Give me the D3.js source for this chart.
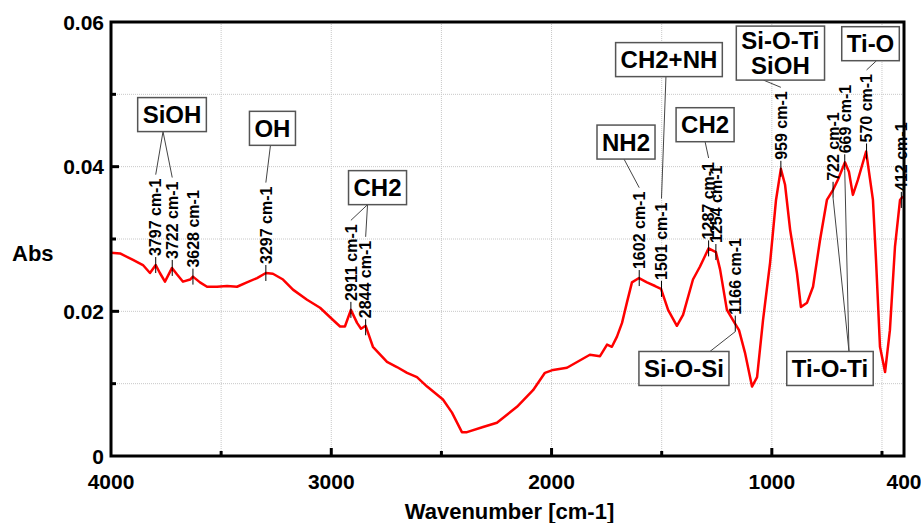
<!DOCTYPE html>
<meta charset="utf-8">
<style>
body{margin:0;background:#fff;}
svg{position:absolute;left:0;top:0;}
text{font-family:'Liberation Sans',Arial,sans-serif;font-weight:bold;fill:#000;}
.grid line{stroke:#c8c8c8;stroke-width:1;stroke-dasharray:1,1;}
.frame{fill:none;stroke:#000;stroke-width:3;}
.spec{fill:none;stroke:#ff0000;stroke-width:2.5;stroke-linejoin:round;}
.peak{font-size:16px;}
.tickmark{stroke:#000;stroke-width:1;}
.lead{stroke:#444;stroke-width:1;}
.box rect{fill:#fff;stroke:#555;stroke-width:1.5;}
.box text{font-size:24px;text-anchor:middle;}
</style>
<script src="https://d3js.org/d3.v7.min.js"></script>
<svg width="921" height="523"></svg>
<script>
// spectrum
var wavenumber = [4000,3959,3900,3855,3823,3797,3778,3755,3723,3700,3673,3641,3628,3596,3564,3519,3473,3428,3383,3337,3297,3265,3219,3174,3110,3051,2992,2960,2938,2911,2883,2865,2844,2811,2747,2702,2656,2611,2565,2493,2452,2407,2384,2311,2248,2157,2084,2030,1993,1930,1884,1826,1780,1748,1726,1703,1680,1658,1635,1603,1567,1530,1503,1471,1431,1403,1358,1326,1287,1254,1235,1204,1167,1149,1122,1090,1067,1040,1008,981,959,940,917,886,868,840,813,781,750,722,700,668,650,632,609,572,541,527,509,486,464,441,418,405];
var absorb = [0.0281,0.0280,0.0271,0.0264,0.0253,0.0264,0.0253,0.0241,0.0260,0.0251,0.0241,0.0244,0.0248,0.0240,0.0234,0.0234,0.0235,0.0234,0.0240,0.0246,0.0253,0.0252,0.0244,0.0230,0.0216,0.0205,0.0188,0.0179,0.0179,0.0202,0.0184,0.0176,0.0180,0.0151,0.0130,0.0123,0.0115,0.0109,0.0096,0.0078,0.0060,0.0033,0.0033,0.0040,0.0046,0.0068,0.0091,0.0115,0.0119,0.0122,0.0130,0.0140,0.0138,0.0154,0.0151,0.0165,0.0184,0.0212,0.0240,0.0246,0.0240,0.0235,0.0231,0.0202,0.0180,0.0195,0.0244,0.0262,0.0287,0.0282,0.0258,0.0202,0.0183,0.0174,0.0143,0.0096,0.0109,0.0188,0.0267,0.0354,0.0397,0.0375,0.0313,0.0253,0.0206,0.0212,0.0234,0.0299,0.0354,0.0368,0.0382,0.0406,0.0393,0.0361,0.0382,0.0421,0.0354,0.0271,0.0151,0.0116,0.0174,0.0289,0.0354,0.0359];

// labelled peaks
var peakWn  = [3797,3722,3628,3297,2911,2844,1602,1501,1287,1254,1166,959,722,669,570,412];
var peakAbs = [0.0264,0.0260,0.0248,0.0253,0.0202,0.0178,0.0246,0.0231,0.0287,0.0282,0.0183,0.0397,0.0368,0.0406,0.0421,0.0354];

// group boxes: text lines, centre (wavenumber, abs), leader side/offset, peaks it points to
var boxes = [
  {lines:["SiOH"], wn:3723, abs:0.0472, side:"bottom", dx:-9, to:[3797,3722]},
  {lines:["OH"], wn:3267, abs:0.0453, side:"bottom", dx:-2, to:[3297]},
  {lines:["CH2"], wn:2790, abs:0.0371, side:"bottom", dx:-10, to:[2911,2844]},
  {lines:["NH2"], wn:1662, abs:0.0434, side:"bottom", dx:-2, to:[1602]},
  {lines:["CH2+NH"], wn:1467, abs:0.0548, side:"bottom", dx:-3, to:[1501]},
  {lines:["CH2"], wn:1303, abs:0.0458, side:"bottom", dx:0, to:[1287]},
  {lines:["Si-O-Ti","SiOH"], wn:961, abs:0.0557, side:"bottom", dx:-17, to:[959]},
  {lines:["Ti-O"], wn:552, abs:0.0570, side:"bottom", dx:6, to:[570]},
  {lines:["Si-O-Si"], wn:1399, abs:0.0121, side:"top", dx:26, to:[1166]},
  {lines:["Ti-O-Ti"], wn:736, abs:0.0121, side:"top", dx:19, to:[722,669]}
];

var xTickLabels = [4000,3000,2000,1000,400];
var yTickLabels = [0,0.02,0.04,0.06];

var svg = d3.select("svg"),
    L = 111, R = 904, T = 22, B = 456;

var x = d3.scaleLinear().domain([4000,400]).range([L,R]);
var y = d3.scaleLinear().domain([0,0.06]).range([B,T]);

// grid
var grid = svg.append("g").attr("class","grid");
grid.selectAll(".v").data([3500,3000,2500,2000,1500,1000,500]).enter().append("line")
  .attr("x1",d=>x(d)).attr("x2",d=>x(d)).attr("y1",T).attr("y2",B);
grid.selectAll(".h").data([0.01,0.02,0.03,0.04,0.05]).enter().append("line")
  .attr("x1",L).attr("x2",R).attr("y1",d=>y(d)).attr("y2",d=>y(d));

// spectrum
var pts = wavenumber.map((w,i)=>[w,absorb[i]]);
svg.append("path").attr("class","spec")
  .attr("d", d3.line().x(d=>x(d[0])).y(d=>y(d[1]))(pts));

// frame + inward ticks
svg.append("rect").attr("class","frame")
  .attr("x",L).attr("y",T).attr("width",R-L).attr("height",B-T);
var xt = svg.append("g");
[3500,3000,2500,2000,1500,1000,500].forEach(function(d){
  var len = d%1000==0 ? 8 : 5;
  xt.append("line").attr("x1",x(d)).attr("x2",x(d)).attr("y1",B).attr("y2",B-len)
    .attr("stroke","#000").attr("stroke-width",3);
});
[0.01,0.02,0.03,0.04,0.05].forEach(function(d){
  var len = Math.round(d*100)%2==0 ? 8 : 5;
  xt.append("line").attr("x1",L).attr("x2",L+len).attr("y1",y(d)).attr("y2",y(d))
    .attr("stroke","#000").attr("stroke-width",3);
});

// tick labels
svg.selectAll(".xl").data(xTickLabels).enter().append("text")
  .attr("x",d=>x(d)).attr("y",B+33).attr("text-anchor","middle")
  .style("font-size","21px").text(d=>d);
svg.selectAll(".yl").data(yTickLabels).enter().append("text")
  .attr("x",L-7).attr("y",d=>y(d)).attr("dy","0.36em").attr("text-anchor","end")
  .style("font-size","21px").text(d=>d===0?"0":d.toFixed(2));

svg.append("text").attr("x",(L+R)/2+2).attr("y",519).attr("text-anchor","middle")
  .style("font-size","22px").text("Wavenumber [cm-1]");
svg.append("text").attr("x",12).attr("y",253).attr("dy","0.36em")
  .style("font-size","22px").text("Abs");

// peak labels
var gap = 8, labelTop = {}, tickBottom = {};
peakWn.forEach(function(w,i){
  var px = x(w), py = y(peakAbs[i]);
  svg.append("line").attr("class","tickmark")
    .attr("x1",px).attr("x2",px).attr("y1",py-gap).attr("y2",py+gap);
  var t = svg.append("text").attr("class","peak")
    .attr("transform","translate("+px+","+(py-gap-1)+") rotate(-90)")
    .attr("dy","0.36em").text(w+" cm-1");
  labelTop[w] = py-gap-1-t.node().getComputedTextLength();
  tickBottom[w] = py+gap;
});

// boxes and leaders
boxes.forEach(function(b){
  var cx = x(b.wn), cy = y(b.abs);
  var h = b.lines.length>1 ? 54 : 34;
  var ox = cx+b.dx, oy = b.side=="bottom" ? cy+h/2 : cy-h/2;
  b.to.forEach(function(w){
    var tx = x(w), ty = b.side=="bottom" ? labelTop[w]-4 : tickBottom[w];
    svg.append("line").attr("class","lead")
      .attr("x1",ox).attr("y1",oy).attr("x2",tx).attr("y2",ty);
  });
  var g = svg.append("g").attr("class","box");
  var rect = g.append("rect");
  var wmax = 0;
  b.lines.forEach(function(s,j){
    var t = g.append("text").attr("x",cx)
      .attr("y",cy+(j-(b.lines.length-1)/2)*25).attr("dy","0.36em").text(s);
    wmax = Math.max(wmax,t.node().getComputedTextLength());
  });
  rect.attr("x",cx-wmax/2-5).attr("y",cy-h/2).attr("width",wmax+10).attr("height",h);
});
</script>
